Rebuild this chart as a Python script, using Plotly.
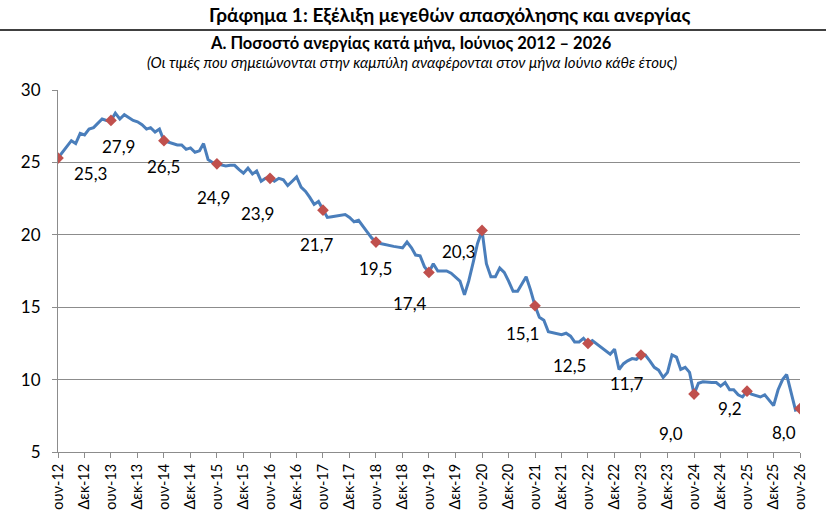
import plotly.graph_objects as go
import pandas as pd

# Monthly unemployment rate (%), June 2012 - June 2026
unemployment = [
    25.3, 25.7, 26.1, 26.5, 26.3, 27.0, 26.9, 27.3, 27.4, 27.7, 28.0, 27.9,
    27.9, 28.4, 28.0, 28.3, 28.1, 27.9, 27.8, 27.6, 27.3, 27.4, 27.1, 27.3,
    26.5, 26.4, 26.3, 26.2, 26.2, 25.9, 26.0, 25.7, 25.8, 26.3, 25.2, 25.0,
    24.9, 24.8, 24.75, 24.8, 24.8, 24.5, 24.25, 24.6, 24.2, 24.4, 23.7, 23.9,
    23.9, 23.7, 23.9, 23.8, 23.4, 23.7, 24.0, 23.3, 23.0, 22.6, 22.1, 22.3,
    21.7, 21.2, 21.25, 21.3, 21.35, 21.4, 21.2, 20.9, 21.0, 20.65, 20.2, 19.8,
    19.5, 19.4, 19.35, 19.3, 19.2, 19.15, 19.1, 19.5, 19.1, 18.6, 18.55, 17.8,
    17.4, 18.0, 17.5, 17.5, 17.5, 17.35, 17.05, 16.8, 15.85, 16.8, 18.1, 19.4,
    20.3, 18.0, 17.1, 17.1, 17.7, 17.4, 16.8, 16.1, 16.1, 16.6, 17.1, 16.2,
    15.1, 14.3, 14.1, 13.3, 13.25, 13.2, 13.1, 13.2, 13.0, 12.6, 12.6, 12.85,
    12.5, 12.7, 12.45, 12.2, 11.95, 11.75, 12.1, 10.7, 11.1, 11.3, 11.45, 11.4,
    11.7, 11.7, 11.3, 10.85, 10.65, 10.15, 10.5, 11.7, 11.55, 10.7, 10.85, 10.5,
    9.0, 9.75, 9.85, 9.8, 9.8, 9.8, 9.55, 9.8, 9.3, 9.3, 8.95, 8.8,
    9.2, 9.0, 8.9, 8.8, 8.95, 8.6, 8.2, 9.3, 10.0, 10.35, 9.1, 7.9,
    8.0,
]

# June values highlighted on the curve
june_years = [2012, 2013, 2014, 2015, 2016, 2017, 2018, 2019, 2020,
              2021, 2022, 2023, 2024, 2025, 2026]
june_values = [25.3, 27.9, 26.5, 24.9, 23.9, 21.7, 19.5, 17.4, 20.3,
               15.1, 12.5, 11.7, 9.0, 9.2, 8.0]
# label offsets (px right, px down) relative to the marker
label_offsets = [(32, 15), (8, 26), (0, 26), (-3, 34), (-13, 35), (-6, 34),
                 (0, 26), (-19, 31), (-24, 21), (-13, 28), (-18, 22),
                 (-14, 29), (-23, 39), (-17, 17), (-16, 24)]

tick_labels = [
    "ουν-12", "Δεκ-12", "ουν-13", "Δεκ-13", "ουν-14", "Δεκ-14", "ουν-15",
    "Δεκ-15", "ουν-16", "Δεκ-16", "ουν-17", "Δεκ-17", "ουν-18", "Δεκ-18",
    "ουν-19", "Δεκ-19", "ουν-20", "Δεκ-20", "ουν-21", "Δεκ-21", "ουν-22",
    "Δεκ-22", "ουν-23", "Δεκ-23", "ουν-24", "Δεκ-24", "ουν-25", "Δεκ-25",
    "ουν-26",
]

months = pd.date_range("2012-06-01", periods=len(unemployment), freq="MS")
june_dates = [pd.Timestamp(f"{y}-06-01") for y in june_years]
tick_dates = pd.date_range("2012-06-01", "2026-06-01", freq="6MS")

FONT = "Lato, 'Noto Sans', 'Open Sans', sans-serif"
LINE_COLOR = "#4A7EBB"
MARK_COLOR = "#C0504D"
GRID = "#8C8C8C"

fig = go.Figure()
fig.add_trace(go.Scatter(
    x=months, y=unemployment, mode="lines",
    line=dict(color=LINE_COLOR, width=3), hoverinfo="skip", showlegend=False,
))
fig.add_trace(go.Scatter(
    x=june_dates, y=june_values, mode="markers",
    marker=dict(symbol="diamond", color=MARK_COLOR, size=9),
    showlegend=False,
))

for d, v, (dx, dy) in zip(june_dates, june_values, label_offsets):
    fig.add_annotation(
        x=d, y=v, xref="x", yref="y", showarrow=False,
        text=f"{v:.1f}".replace(".", ","),
        xshift=dx, yshift=-dy, xanchor="center", yanchor="middle",
        font=dict(family=FONT, size=17, color="black"),
    )

L, R, T, B = 58, 26, 90, 64
W, H = 826, 516
pw = W - L - R
ph = H - T - B


def px_x(px):
    return (px - L) / pw


def px_y(py):
    return 1 + (T - py) / ph


fig.add_annotation(
    x=px_x(449), y=px_y(1), xref="paper", yref="paper", showarrow=False,
    text="<b>Γράφημα 1: Εξέλιξη μεγεθών απασχόλησης και ανεργίας</b>",
    xanchor="center", yanchor="top",
    font=dict(family=FONT, size=19, color="black"),
)
fig.add_annotation(
    x=px_x(411), y=px_y(43), xref="paper", yref="paper", showarrow=False,
    text="<b>Α. Ποσοστό ανεργίας κατά μήνα, Ιούνιος 2012 – 2026</b>",
    xanchor="center", yanchor="middle",
    font=dict(family=FONT, size=16.5, color="black"),
)
fig.add_annotation(
    x=px_x(412), y=px_y(62), xref="paper", yref="paper", showarrow=False,
    text="<i>(Οι τιμές που σημειώνονται στην καμπύλη αναφέρονται στον μήνα Ιούνιο κάθε έτους)</i>",
    xanchor="center", yanchor="middle",
    font=dict(family=FONT, size=15, color="black"),
)
fig.add_shape(
    type="line", xref="paper", yref="paper",
    x0=px_x(0), x1=px_x(W), y0=px_y(30), y1=px_y(30),
    line=dict(color="black", width=1.5),
)

fig.update_layout(
    width=W, height=H,
    margin=dict(l=L, r=R, t=T, b=B),
    paper_bgcolor="white", plot_bgcolor="white",
    font=dict(family=FONT, color="black"),
    xaxis=dict(
        type="date", automargin=False,
        range=[months[0], pd.Timestamp("2026-06-01")],
        tickvals=tick_dates, ticktext=tick_labels, tickangle=-90,
        tickfont=dict(size=14.5, color="black"),
        showgrid=False, zeroline=False,
        showline=True, linecolor=GRID, linewidth=1,
        ticks="outside", ticklen=5, tickcolor=GRID,
    ),
    yaxis=dict(
        automargin=False,
        range=[5, 30], dtick=5, tick0=5,
        tickfont=dict(size=17, color="black"),
        showgrid=True, gridcolor=GRID, gridwidth=1, zeroline=False,
        showline=True, linecolor=GRID, linewidth=1,
        ticks="outside", ticklen=5, tickcolor=GRID,
        ticklabelstandoff=8,
    ),
)

fig.write_html("out.html")
